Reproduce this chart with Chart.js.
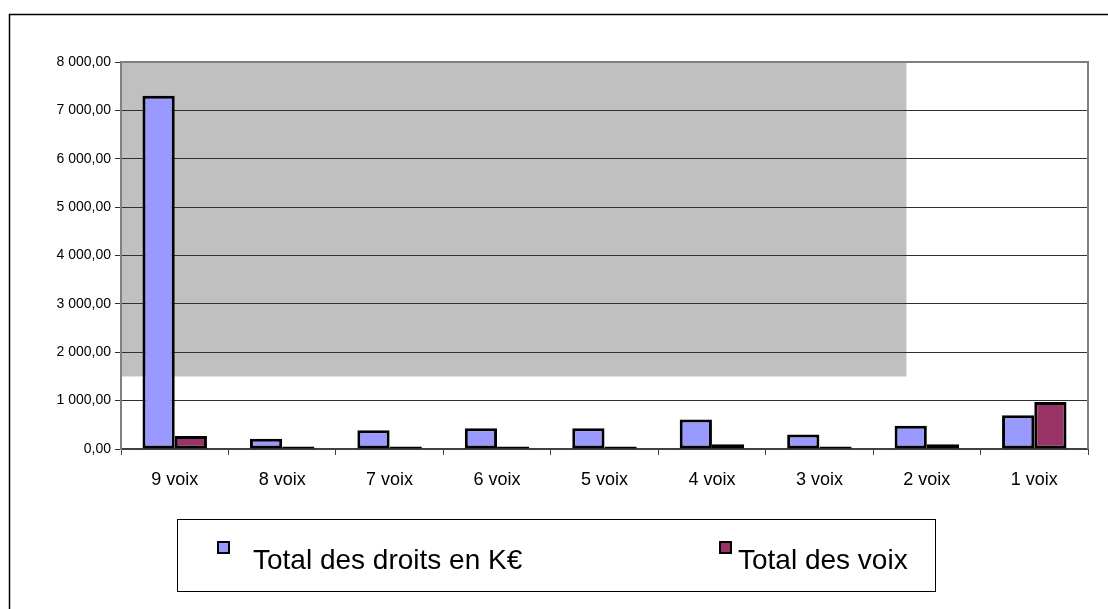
<!DOCTYPE html>
<html>
<head>
<meta charset="utf-8">
<script src="https://cdn.jsdelivr.net/npm/chart.js@4/dist/chart.umd.min.js"></script>
<style>
  html, body { margin: 0; padding: 0; background: #fff; }
  #wrap { width: 1108px; height: 609px; position: relative; }
</style>
</head>
<body>
<div id="wrap"><canvas id="chart"></canvas></div>
<script>
// data
const categories = ["9 voix", "8 voix", "7 voix", "6 voix", "5 voix", "4 voix", "3 voix", "2 voix", "1 voix"];
const droits = [7300, 210, 390, 430, 430, 610, 300, 480, 700];
const voix = [270, 50, 50, 50, 50, 100, 50, 100, 970];
const seriesNames = ["Total des droits en K€", "Total des voix"];
const seriesColors = ["#9999FF", "#993366"];
const yMax = 8000;
const yStep = 1000;

// "8 000,00" style labels
function frNumber(v) {
  const parts = v.toFixed(2).split(".");
  const int = parts[0].replace(/\B(?=(\d{3})+(?!\d))/g, " ");
  return int + "," + parts[1];
}

// grey panel behind the grid, and the outer frame + boxed legend
const decorPlugin = {
  id: "decor",
  beforeDraw(chart) {
    const ctx = chart.ctx;
    const x = chart.scales.x, y = chart.scales.y;
    ctx.save();
    ctx.fillStyle = "#C0C0C0";
    const left = chart.chartArea.left;
    const right = x.getPixelForValue(6.81);
    const top = y.getPixelForValue(8000);
    const bottom = y.getPixelForValue(1500);
    ctx.fillRect(left, top, right - left, bottom - top);
    ctx.restore();
  },
  afterDraw(chart) {
    const ctx = chart.ctx;
    const a = chart.chartArea;
    ctx.save();
    // plot border
    ctx.strokeStyle = "#808080";
    ctx.lineWidth = 2;
    ctx.beginPath();
    ctx.moveTo(a.left, a.top);
    ctx.lineTo(a.right, a.top);
    ctx.lineTo(a.right, a.bottom);
    ctx.stroke();

    // outer frame (top and left only visible)
    ctx.strokeStyle = "#000";
    ctx.lineWidth = 1.5;
    ctx.beginPath();
    ctx.moveTo(9.5, 609);
    ctx.lineTo(9.5, 14.5);
    ctx.lineTo(1108, 14.5);
    ctx.stroke();

    // legend box
    ctx.lineWidth = 1;
    ctx.strokeRect(177.5, 519.5, 758, 72);
    ctx.font = "28px 'Liberation Sans', Arial, sans-serif";
    ctx.textBaseline = "alphabetic";
    const boxX = [218, 720];
    const textX = [253, 738];
    chart.data.datasets.forEach((ds, i) => {
      ctx.fillStyle = ds.backgroundColor;
      ctx.fillRect(boxX[i], 542, 11, 11);
      ctx.strokeStyle = "#000";
      ctx.lineWidth = 2;
      ctx.strokeRect(boxX[i], 542, 11, 11);
      ctx.fillStyle = "#000";
      ctx.fillText(ds.label, textX[i], 569);
    });
    ctx.restore();
  }
};

new Chart(document.getElementById("chart"), {
  type: "bar",
  data: {
    labels: categories,
    datasets: [
      { label: seriesNames[0], data: droits, backgroundColor: seriesColors[0], borderColor: "#000", borderWidth: 3, borderSkipped: false },
      { label: seriesNames[1], data: voix, backgroundColor: seriesColors[1], borderColor: "#000", borderWidth: 3, borderSkipped: false }
    ]
  },
  options: {
    responsive: true,
    maintainAspectRatio: false,
    animation: false,
    layout: { padding: { top: 62, right: 20, left: 0, bottom: 0 } },
    datasets: { bar: { categoryPercentage: 0.6, barPercentage: 1.0 } },
    plugins: {
      legend: { display: false },
      tooltip: { enabled: false }
    },
    scales: {
      x: {
        afterFit(scale) { scale.height = 160; },
        grid: { display: true, drawOnChartArea: false, color: "#404040", tickLength: 6, offset: true },
        border: { display: true, color: "#404040", width: 2 },
        ticks: {
          color: "#000",
          padding: 14,
          font: { family: "'Liberation Sans', Arial, sans-serif", size: 18 }
        }
      },
      y: {
        min: 0,
        max: yMax,
        afterFit(scale) { scale.width = 121; },
        grid: { color: "#303030", tickLength: 6, lineWidth: 1 },
        border: { display: true, color: "#808080", width: 2 },
        ticks: {
          stepSize: yStep,
          color: "#000",
          padding: 4,
          font: { family: "'Liberation Sans', Arial, sans-serif", size: 14 },
          callback: v => frNumber(v)
        }
      }
    }
  },
  plugins: [decorPlugin]
});
</script>
</body>
</html>
